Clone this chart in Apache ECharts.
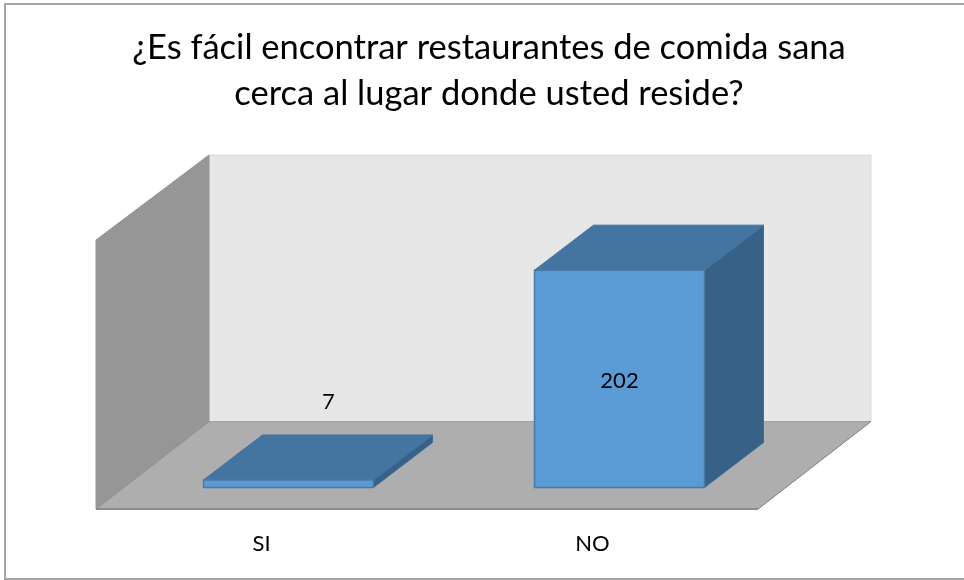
<!DOCTYPE html>
<html>
<head>
<meta charset="utf-8">
<style>html,body{margin:0;padding:0;background:#fff}#c{width:964px;height:580px}</style>
<script src="https://cdn.jsdelivr.net/npm/echarts@6/dist/echarts.min.js"></script>
</head>
<body>
<div id="c"></div>
<script>
const categories = ['SI', 'NO'];
const values = [7, 202];
const titleText = '¿Es fácil encontrar restaurantes de comida sana\ncerca al lugar donde usted reside?';

const FONT = 'Lato';
const WALL_DX = 113, WALL_DY_TOP = -85, WALL_DY_BOTTOM = -87.5;
const BAR_DX = 59, BAR_DY = -45;
const BAR_SHIFT_X = 27, BAR_SHIFT_Y = -21.5;
const BAR_WIDTH_RATIO = 0.5136;

const chart = echarts.init(document.getElementById('c'), null, {renderer: 'canvas'});

function poly(points, fill, stroke, lw) {
  return {type: 'polygon', shape: {points}, style: {fill, stroke: stroke || fill, lineWidth: lw === undefined ? 1 : lw}, silent: true};
}

function renderRoom(params, api) {
  const g = params.coordSys;
  const l = g.x, r = g.x + g.width, t = g.y, b = g.y + g.height;
  const dx = WALL_DX, dt = WALL_DY_TOP, db = WALL_DY_BOTTOM;
  return {type: 'group', children: [
    poly([[l + dx, t + dt], [r + dx, t + dt], [r + dx, b + db], [l + dx, b + db]], '#e7e7e7', '#dcdcdc', 1),
    poly([[l, t], [l + dx, t + dt], [l + dx, b + db], [l, b]], '#969696', '#969696', 1),
    poly([[l, b], [l + dx, b + db], [r + dx, b + db], [r, b]], '#aeaeae', '#a2a2a2', 1),
    {type: 'line', shape: {x1: l, y1: b, x2: r, y2: b}, style: {stroke: '#8c8c8c', lineWidth: 2}, silent: true},
    {type: 'line', shape: {x1: r, y1: b, x2: r + dx, y2: b + db}, style: {stroke: '#8c8c8c', lineWidth: 1}, silent: true},
    {type: 'line', shape: {x1: l, y1: b, x2: l + dx, y2: b + db}, style: {stroke: '#8f8f8f', lineWidth: 1}, silent: true}
  ]};
}

function renderBar(params, api) {
  const idx = api.value(0), v = api.value(1);
  const top = api.coord([idx, v]), base = api.coord([idx, 0]);
  const w = api.size([1, 0])[0] * BAR_WIDTH_RATIO;
  const cx = top[0] + BAR_SHIFT_X;
  const x0 = cx - w / 2, x1 = cx + w / 2;
  const yT = top[1] + BAR_SHIFT_Y, yB = base[1] + BAR_SHIFT_Y;
  const edge = '#4a7aa6';
  const small = yB - yT < 40;
  const lx = small ? cx + 40 : cx;
  const ly = small ? yT - 78 : (yT + yB) / 2 + 2;
  return {type: 'group', children: [
    poly([[x1, yB], [x1 + BAR_DX, yB + BAR_DY], [x1 + BAR_DX, yT + BAR_DY], [x1, yT]], '#386188', '#3f6d98', 1),
    poly([[x0, yT], [x0 + BAR_DX, yT + BAR_DY], [x1 + BAR_DX, yT + BAR_DY], [x1, yT]], '#4474a0', '#4474a0', 1),
    poly([[x0, yB], [x0, yT], [x1, yT], [x1, yB]], '#5b9bd5', edge, 1.5),
    {type: 'text', style: {text: String(v), x: lx, y: ly, fill: '#000', font: '22px ' + FONT, textAlign: 'center', textVerticalAlign: 'middle'}, z2: 10}
  ]};
}

chart.setOption({
  animation: false,
  backgroundColor: '#ffffff',
  title: {
    text: titleText, left: 484, top: 20, textAlign: 'center',
    textStyle: {fontFamily: FONT, fontSize: 34.5, fontWeight: 'normal', color: '#000', lineHeight: 46}
  },
  graphic: [{
    type: 'polyline', shape: {points: [[964, 4], [5, 4], [5, 579], [964, 579]]},
    style: {fill: 'none', stroke: '#a6a6a6', lineWidth: 2}, silent: true, z: 0
  }],
  grid: {left: 96, right: 206, top: 240, bottom: 71},
  xAxis: {
    type: 'category', data: categories,
    axisLine: {show: false}, axisTick: {show: false}, splitLine: {show: false},
    axisLabel: {fontFamily: FONT, fontSize: 22, color: '#000', margin: 24}
  },
  yAxis: {type: 'value', min: 0, max: 250, show: false, splitLine: {show: false}},
  series: [
    {type: 'custom', renderItem: renderRoom, data: [[0, 0]], z: 1, silent: true, clip: false},
    {type: 'custom', renderItem: renderBar, data: values.map((v, i) => [i, v]), encode: {x: 0, y: 1}, z: 2, silent: true, clip: false}
  ]
});
</script>
</body>
</html>
